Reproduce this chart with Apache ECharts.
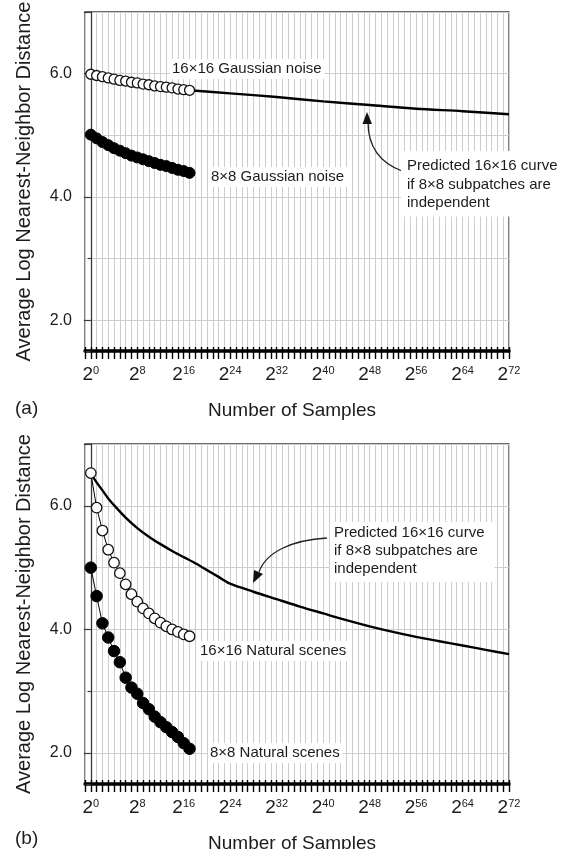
<!DOCTYPE html>
<html>
<head>
<meta charset="utf-8">
<script src="https://cdn.jsdelivr.net/npm/echarts@6/dist/echarts.min.js"></script>
<style>
  html, body { margin: 0; padding: 0; background: #fff; }
  #chart { width: 569px; height: 849px; }
</style>
</head>
<body>
<div id="chart"></div>
<script>
// Exponent k of the sample count 2^k for the measured points
const exponents = [0, 1, 2, 3, 4, 5, 6, 7, 8, 9, 10, 11, 12, 13, 14, 15, 16, 17];

// (a) Gaussian noise
const gauss16 = [5.99, 5.97, 5.95, 5.93, 5.91, 5.89, 5.88, 5.86, 5.85, 5.83, 5.82, 5.80, 5.79, 5.78, 5.77, 5.75, 5.74, 5.73];
const gauss8  = [5.01, 4.95, 4.89, 4.84, 4.79, 4.75, 4.71, 4.67, 4.64, 4.61, 4.58, 4.55, 4.52, 4.50, 4.47, 4.44, 4.42, 4.39];
const predGaussExp = [17, 24, 32, 40, 48, 56, 64, 72];
const predGauss    = [5.73, 5.68, 5.62, 5.55, 5.49, 5.43, 5.39, 5.34];

// (b) Natural scenes
const natural16 = [6.53, 5.97, 5.60, 5.29, 5.08, 4.91, 4.73, 4.57, 4.45, 4.34, 4.26, 4.18, 4.11, 4.05, 4.00, 3.96, 3.92, 3.89];
const natural8  = [5.00, 4.54, 4.10, 3.87, 3.65, 3.47, 3.22, 3.06, 2.96, 2.81, 2.71, 2.59, 2.50, 2.42, 2.34, 2.26, 2.16, 2.07];
const predNaturalExp = [0, 1, 2, 3, 4, 6, 8, 10, 12, 14, 16, 18, 20, 22, 24, 28, 32, 36, 40, 44, 48, 52, 56, 60, 64, 68, 72];
const predNatural    = [6.52, 6.38, 6.25, 6.12, 6.01, 5.81, 5.64, 5.50, 5.38, 5.27, 5.17, 5.07, 4.96, 4.85, 4.74, 4.61, 4.49, 4.37, 4.26, 4.15, 4.05, 3.96, 3.88, 3.81, 3.74, 3.67, 3.60];

// Axis settings
const xRange = [-1, 72];
const yRange = [1.5, 7];
const xLabelStep = 8;
const yLabelValues = [2, 4, 6];

const FONT = '"Liberation Sans", Arial, Helvetica, sans-serif';
const INK = '#1c1c1c';
const GRIDLINE = '#cdcdcd';

const pairs = (xs, ys) => xs.map((x, i) => [x, ys[i]]);

const panels = [
  { top: 12, height: 339 },
  { top: 444, height: 340 }
];

const grids = panels.map(p => ({
  left: 85, width: 424, top: p.top, height: p.height,
  outerBoundsMode: 'none', containLabel: false,
  show: true, borderColor: '#3a3a3a', borderWidth: 1.3, backgroundColor: 'transparent'
}));

const xAxes = [];
const yAxes = [];
panels.forEach((p, gi) => {
  xAxes.push({
    type: 'value', gridIndex: gi, min: xRange[0], max: xRange[1], interval: 1,
    name: 'Number of Samples', nameLocation: 'middle', nameGap: 50,
    nameTextStyle: { fontFamily: FONT, fontSize: 19, color: INK, padding: [0, 10, 0, 0] },
    axisLine: { show: true, lineStyle: { color: '#000', width: 3.5 } },
    axisTick: { show: true, length: 8, lineStyle: { color: '#000', width: 1.4 } },
    splitLine: { show: true, lineStyle: { color: GRIDLINE, width: 1 } },
    axisLabel: {
      margin: 14,
      formatter: v => (v >= 0 && v % xLabelStep === 0) ? '{b|2}{s|' + v + '}' : '',
      rich: {
        b: { fontFamily: FONT, fontSize: 19, color: INK, lineHeight: 20, verticalAlign: 'top' },
        s: { fontFamily: FONT, fontSize: 11, color: INK, lineHeight: 20, verticalAlign: 'top', padding: [0, 0, 8, 0] }
      }
    }
  });
  // companion axis: tick marks pointing into the plot
  xAxes.push({
    type: 'value', gridIndex: gi, min: xRange[0], max: xRange[1], interval: 1,
    position: 'bottom',
    axisLine: { show: false },
    axisTick: { show: true, inside: true, length: 4, lineStyle: { color: '#000', width: 1.4 } },
    axisLabel: { show: false },
    splitLine: { show: false }
  });
  yAxes.push({
    type: 'value', gridIndex: gi, min: yRange[0], max: yRange[1],
    minInterval: 2, maxInterval: 2,
    name: 'Average Log Nearest-Neighbor Distance', nameLocation: 'middle', nameGap: 51,
    nameTextStyle: { fontFamily: FONT, fontSize: 20, color: INK },
    axisLine: { show: true, lineStyle: { color: '#3a3a3a', width: 1.3 } },
    axisTick: { show: true, length: 7, lineStyle: { color: '#3a3a3a', width: 1.2 } },
    minorTick: { show: true, splitNumber: 2, length: 3, lineStyle: { color: '#3a3a3a', width: 1.2 } },
    splitLine: { show: true, lineStyle: { color: GRIDLINE, width: 1 } },
    minorSplitLine: { show: true, lineStyle: { color: GRIDLINE, width: 1 } },
    axisLabel: {
      margin: 13, fontFamily: FONT, fontSize: 16, color: INK,
      formatter: v => yLabelValues.indexOf(v) >= 0 ? v.toFixed(1) : ''
    }
  });
});

function markers(name, data, gi, filled, size) {
  return {
    name, type: 'line', xAxisIndex: gi * 2, yAxisIndex: gi, data,
    symbol: 'circle', symbolSize: size, showSymbol: true,
    lineStyle: { color: '#000', width: 1 },
    itemStyle: filled
      ? { color: '#000', borderColor: '#000', borderWidth: 1 }
      : { color: '#fff', borderColor: '#111', borderWidth: 1.3 },
    z: 5, animation: false
  };
}
function prediction(name, data, gi) {
  return {
    name, type: 'line', xAxisIndex: gi * 2, yAxisIndex: gi, data,
    symbol: 'none', smooth: 0.3,
    lineStyle: { color: '#000', width: 2.4 },
    z: 3, animation: false
  };
}

const series = [
  prediction('Predicted 16×16 (Gaussian)', pairs(predGaussExp, predGauss), 0),
  markers('16×16 Gaussian noise', pairs(exponents, gauss16), 0, false, 10),
  markers('8×8 Gaussian noise', pairs(exponents, gauss8), 0, true, 11),
  prediction('Predicted 16×16 (Natural)', pairs(predNaturalExp, predNatural), 1),
  markers('16×16 Natural scenes', pairs(exponents, natural16), 1, false, 10.5),
  markers('8×8 Natural scenes', pairs(exponents, natural8), 1, true, 11.5)
];

function note(text, x, y) {
  return {
    type: 'text', left: x, top: y, z: 50,
    style: {
      text, fontFamily: FONT, fontSize: 15, fill: INK,
      backgroundColor: '#fff', padding: [1, 3, 1, 2], lineHeight: 18
    }
  };
}

const predText = 'Predicted 16×16 curve\nif 8×8 subpatches are\nindependent';

const graphic = [
  note('16×16 Gaussian noise', 170, 59),
  note('8×8 Gaussian noise', 209, 167),
  {
    type: 'text', left: 401, top: 151, z: 50,
    style: { text: predText, fontFamily: FONT, fontSize: 15, fill: INK, lineHeight: 18.5,
             backgroundColor: '#fff', padding: [6, 4, 4, 6] }
  },
  { type: 'bezierCurve', z: 40,
    shape: { x1: 402, y1: 171, cpx1: 378, cpy1: 162, cpx2: 368, cpy2: 145, x2: 368, y2: 122 },
    style: { stroke: '#222', lineWidth: 1.3, fill: null } },
  { type: 'polygon', z: 40, shape: { points: [[367, 112], [362.5, 124], [372, 124]] }, style: { fill: '#111' } },

  note('16×16 Natural scenes', 198, 641),
  note('8×8 Natural scenes', 208, 743),
  {
    type: 'text', left: 330, top: 522, z: 50,
    style: { text: predText, fontFamily: FONT, fontSize: 15, fill: INK, lineHeight: 18,
             backgroundColor: '#fff', padding: [2, 10, 4, 4] }
  },
  { type: 'bezierCurve', z: 40,
    shape: { x1: 327, y1: 538, cpx1: 292, cpy1: 540, cpx2: 266, cpy2: 552, x2: 259, y2: 572 },
    style: { stroke: '#222', lineWidth: 1.3, fill: null } },
  { type: 'polygon', z: 40, shape: { points: [[253, 583], [254, 570], [263, 574]] }, style: { fill: '#111' } },

  { type: 'text', left: 15, top: 399, z: 50, style: { text: '(a)', fontFamily: FONT, fontSize: 19, fill: INK } },
  { type: 'text', left: 15, top: 829, z: 50, style: { text: '(b)', fontFamily: FONT, fontSize: 19, fill: INK } }
];

const chart = echarts.init(document.getElementById('chart'), null, { renderer: 'canvas' });
chart.setOption({
  animation: false,
  backgroundColor: '#fff',
  grid: grids,
  xAxis: xAxes,
  yAxis: yAxes,
  series,
  graphic
});
</script>
</body>
</html>
